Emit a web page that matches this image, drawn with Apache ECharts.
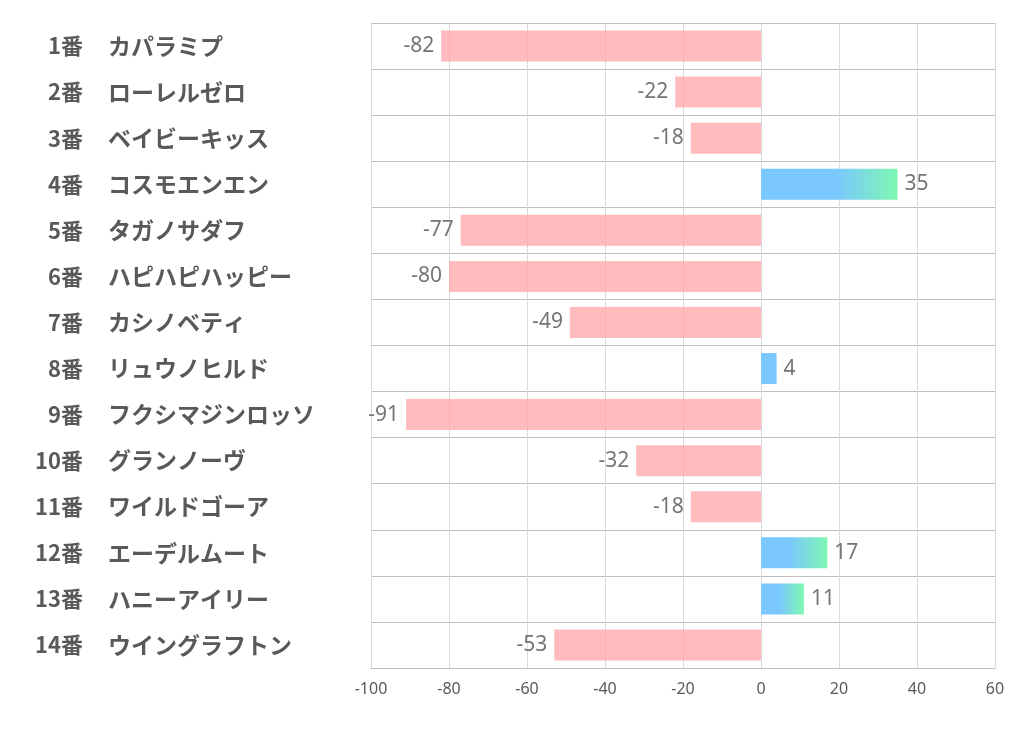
<!DOCTYPE html>
<html>
<head>
<meta charset="utf-8">
<script src="https://cdn.jsdelivr.net/npm/echarts@6/dist/echarts.min.js"></script>
<style>
html,body{margin:0;padding:0;background:#fff;}
#c{width:1022px;height:730px;}
</style>
</head>
<body>
<div id="c"></div>
<script>
const numbers = ['1番','2番','3番','4番','5番','6番','7番','8番','9番','10番','11番','12番','13番','14番'];
const names = ['カパラミプ','ローレルゼロ','ベイビーキッス','コスモエンエン','タガノサダフ','ハピハピハッピー','カシノベティ','リュウノヒルド','フクシマジンロッソ','グランノーヴ','ワイルドゴーア','エーデルムート','ハニーアイリー','ウイングラフトン'];
const values = [-82, -22, -18, 35, -77, -80, -49, 4, -91, -32, -18, 17, 11, -53];
const xTicks = [-100, -80, -60, -40, -20, 0, 20, 40, 60];

function posColor(v) {
  if (v < 6) return '#7ac8ff';
  const start = v > 25 ? 0.55 : 0.42;
  return new echarts.graphic.LinearGradient(0, 0, 1, 0, [
    {offset: 0, color: '#7ac8ff'},
    {offset: start, color: '#7ac8ff'},
    {offset: 1, color: '#7ef7b2'}
  ]);
}

const barData = values.map(v => ({
  value: v,
  itemStyle: { color: v < 0 ? 'rgba(255,172,175,0.82)' : posColor(v) },
  label: { position: v < 0 ? 'left' : 'right' }
}));

const numFont = { fontSize: 22, fontWeight: 'bold', color: '#595959', fontFamily: 'Noto Sans CJK JP' };
const nameFont = { fontSize: 23, fontWeight: 'bold', color: '#595959', fontFamily: 'Noto Sans CJK JP' };

const chart = echarts.init(document.getElementById('c'), null, {renderer: 'canvas'});
chart.setOption({
  animation: false,
  backgroundColor: '#ffffff',
  grid: { left: 371, right: 27, top: 23, bottom: 62, containLabel: false },
  xAxis: {
    type: 'value',
    min: xTicks[0],
    max: xTicks[xTicks.length - 1],
    interval: 20,
    axisLine: { show: true, onZero: false, lineStyle: { color: '#bfbfbf', width: 1 } },
    axisTick: { show: false },
    axisLabel: { color: '#595959', fontSize: 16, margin: 13, fontFamily: 'Noto Sans, sans-serif' },
    splitLine: { show: true, lineStyle: { color: '#d9d9d9', width: 1 } }
  },
  yAxis: [{
    type: 'category',
    inverse: true,
    data: numbers,
    axisLine: { show: false },
    axisTick: { show: false },
    splitLine: { show: true, lineStyle: { color: '#bfbfbf', width: 1 } },
    axisLabel: Object.assign({ align: 'right', margin: 288 }, numFont)
  }, {
    type: 'category',
    position: 'left',
    inverse: true,
    data: names,
    axisLine: { show: false },
    axisTick: { show: false },
    splitLine: { show: false },
    axisLabel: Object.assign({ align: 'left', margin: 263 }, nameFont)
  }],
  series: [{
    type: 'bar',
    yAxisIndex: 0,
    data: barData,
    barWidth: 31,
    label: {
      show: true,
      distance: 7,
      color: '#767676',
      fontSize: 21,
      fontFamily: 'Noto Sans, sans-serif'
    }
  }]
});
</script>
</body>
</html>
